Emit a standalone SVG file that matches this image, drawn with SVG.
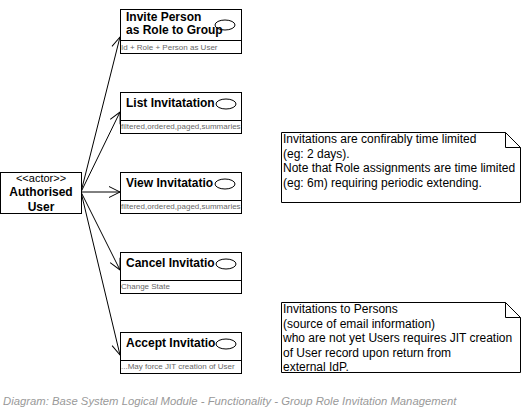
<svg xmlns="http://www.w3.org/2000/svg" width="521" height="413" viewBox="0 0 521 413">
<defs>
<marker id="open" markerUnits="userSpaceOnUse" markerWidth="14" markerHeight="14" refX="11" refY="5.5" orient="auto" overflow="visible">
<path d="M0,0 L11,5.5 L0,11" fill="none" stroke="#000" stroke-width="1"/>
</marker>
<style>
.box{fill:#fff;stroke:#000;stroke-width:1}
.oval{fill:#fff;stroke:#000;stroke-width:1}
.hdr{font-family:"Liberation Sans",Arial,sans-serif;font-size:12px;font-weight:bold;fill:#000}
.sub{font-family:"Liberation Sans",Arial,sans-serif;font-size:8px;fill:#666}
.note{font-family:"Liberation Sans",Arial,sans-serif;font-size:12px;fill:#000}
.stereo{font-family:"Liberation Sans",Arial,sans-serif;font-size:11px;fill:#000}
.cap{font-family:"Liberation Sans",Arial,sans-serif;font-size:11.3px;font-style:italic;fill:#999}
.edge{fill:none;stroke:#000;stroke-width:1;marker-end:url(#open)}
</style>
</defs>
<rect x="0" y="0" width="521" height="413" fill="#fff"/>

<g id="connectors">
<line class="edge" x1="81" y1="192" x2="120" y2="37"/>
<line class="edge" x1="81" y1="192" x2="120" y2="112"/>
<line class="edge" x1="81" y1="192" x2="120" y2="192"/>
<line class="edge" x1="81" y1="192" x2="120" y2="270"/>
<line class="edge" x1="81" y1="192" x2="120" y2="355"/>
</g>

<g id="actor">
<rect class="box" x="0.5" y="172.5" width="81" height="41"/>
<text class="stereo" x="41" y="182" text-anchor="middle">&lt;&lt;actor&gt;&gt;</text>
<text class="hdr" x="41" y="196" text-anchor="middle">Authorised</text>
<text class="hdr" x="41" y="211" text-anchor="middle">User</text>
</g>

<g id="invite">
<rect class="box" x="120.5" y="9.5" width="121" height="44"/>
<line x1="120.5" y1="40.5" x2="241.5" y2="40.5" stroke="#000"/>
<ellipse class="oval" cx="225" cy="25" rx="10" ry="5"/>
<text class="hdr" x="126" y="21">Invite Person</text>
<text class="hdr" x="126" y="34">as Role to Group</text>
<text class="sub" x="121" y="50">Id + Role + Person as User</text>
</g>

<g id="list">
<rect class="box" x="120.5" y="92.5" width="121" height="41"/>
<line x1="120.5" y1="120.5" x2="241.5" y2="120.5" stroke="#000"/>
<ellipse class="oval" cx="226" cy="104" rx="10" ry="5"/>
<text class="hdr" x="126" y="107">List Invitatation</text>
<text class="sub" x="121" y="129">filtered,ordered,paged,summaries</text>
</g>

<g id="view">
<rect class="box" x="120.5" y="172.5" width="121" height="41"/>
<line x1="120.5" y1="200.5" x2="241.5" y2="200.5" stroke="#000"/>
<ellipse class="oval" cx="225" cy="184" rx="10" ry="5"/>
<text class="hdr" x="126" y="187">View Invitatatio</text>
<text class="sub" x="121" y="209">filtered,ordered,paged,summaries</text>
</g>

<g id="cancel">
<rect class="box" x="120.5" y="252.5" width="121" height="41"/>
<line x1="120.5" y1="280.5" x2="241.5" y2="280.5" stroke="#000"/>
<ellipse class="oval" cx="226" cy="264" rx="10" ry="5"/>
<text class="hdr" x="126" y="267">Cancel Invitatio</text>
<text class="sub" x="121" y="289">Change State</text>
</g>

<g id="accept">
<rect class="box" x="120.5" y="332.5" width="121" height="41"/>
<line x1="120.5" y1="360.5" x2="241.5" y2="360.5" stroke="#000"/>
<ellipse class="oval" cx="226" cy="344" rx="10" ry="5"/>
<text class="hdr" x="126" y="347">Accept Invitatio</text>
<text class="sub" x="121" y="369">...May force JIT creation of User</text>
</g>

<g id="note1">
<path d="M281.5,132.5 H505.5 L520.5,147.5 V202.5 H281.5 Z" fill="#fff" stroke="#000"/>
<path d="M505.5,132.5 V147.5 H520.5" fill="none" stroke="#000"/>
<text class="note" x="283" y="143">Invitations are confirably time limited</text>
<text class="note" x="283" y="157.5">(eg: 2 days).</text>
<text class="note" x="283" y="172">Note that Role assignments are time limited</text>
<text class="note" x="283" y="186.5">(eg: 6m) requiring periodic extending.</text>
</g>

<g id="note2">
<path d="M281.5,302.5 H505.5 L520.5,317.5 V372.5 H281.5 Z" fill="#fff" stroke="#000"/>
<path d="M505.5,302.5 V317.5 H520.5" fill="none" stroke="#000"/>
<text class="note" x="283" y="313">Invitations to Persons</text>
<text class="note" x="283" y="327.5">(source of email information)</text>
<text class="note" x="283" y="342">who are not yet Users requires JIT creation</text>
<text class="note" x="283" y="356.5">of User record upon return from</text>
<text class="note" x="283" y="371">external IdP.</text>
</g>

<text class="cap" x="3" y="405">Diagram: Base System Logical Module - Functionality - Group Role Invitation Management</text>
</svg>
